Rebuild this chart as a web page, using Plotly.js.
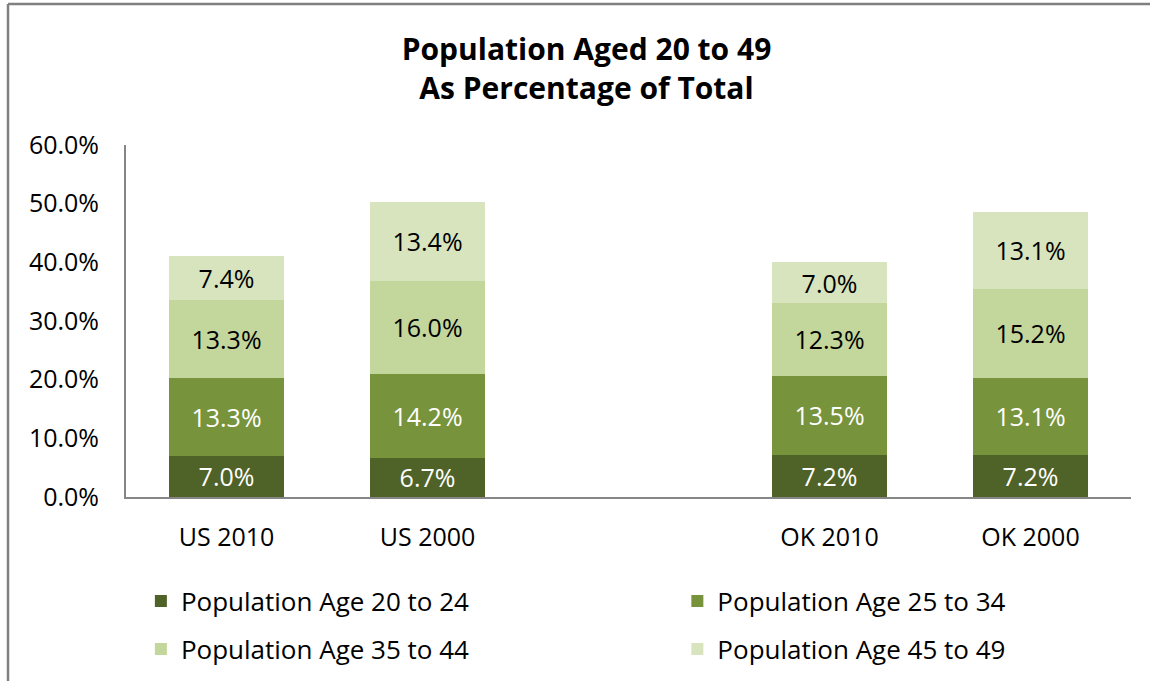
<!DOCTYPE html>
<html>
<head>
<meta charset="utf-8">
<script src="https://cdn.plot.ly/plotly-3.0.1.min.js"></script>
<style>html,body{margin:0;padding:0;background:#fff;}#chart{width:1150px;height:681px;}</style>
</head>
<body>
<div id="chart"></div>
<script>
const categories = ["US 2010", "US 2000", " ", "OK 2010", "OK 2000"];
const seriesNames = ["Population Age 20 to 24", "Population Age 25 to 34", "Population Age 35 to 44", "Population Age 45 to 49"];
const age20to24 = [7.0, 6.7, null, 7.2, 7.2];
const age25to34 = [13.3, 14.2, null, 13.5, 13.1];
const age35to44 = [13.3, 16.0, null, 12.3, 15.2];
const age45to49 = [7.4, 13.4, null, 7.0, 13.1];
const yTicks = [0, 10, 20, 30, 40, 50, 60];

const colors = ["#4F6228", "#77933C", "#C3D69B", "#D7E4BD"];
const textColors = ["#ffffff", "#ffffff", "#000000", "#000000"];
const FONT = "Open Sans, sans-serif";
const seriesValues = [age20to24, age25to34, age35to44, age45to49];
const legendIds = ["legend", "legend2", "legend3", "legend4"];
// legend placement (container fractions): two columns, two rows
const legendX = [0.1225, 0.589, 0.1225, 0.589];
const legendY = [1 - 601 / 681, 1 - 601 / 681, 1 - 649 / 681, 1 - 649 / 681];

const traces = seriesValues.map((vals, i) => ({
  type: "bar",
  name: seriesNames[i],
  x: categories,
  y: vals,
  marker: {color: colors[i], line: {width: 0}},
  text: vals.map(v => v == null ? "" : v.toFixed(1) + "%"),
  textposition: "inside",
  insidetextanchor: "middle",
  textfont: {family: FONT, size: 25, color: textColors[i]},
  hoverinfo: "skip",
  legend: legendIds[i]
}));

const layout = {
  width: 1150,
  height: 681,
  paper_bgcolor: "#ffffff",
  plot_bgcolor: "#ffffff",
  margin: {l: 126, r: 19, t: 145, b: 184, autoexpand: false},
  barmode: "stack",
  bargap: 0.428,
  showlegend: true,
  uniformtext: {mode: "show", minsize: 25},
  title: {
    text: "<b>Population Aged 20 to 49<br>As Percentage of Total</b>",
    font: {family: FONT, size: 30, color: "#000000"},
    x: 0.51, xanchor: "center", xref: "container",
    y: 1 - 60 / 681, yanchor: "middle", yref: "container"
  },
  xaxis: {
    type: "category",
    categoryorder: "array",
    categoryarray: categories,
    showline: true, linecolor: "#868686", linewidth: 2,
    showgrid: false, zeroline: false, ticks: "",
    ticklabelstandoff: 17,
    tickfont: {family: FONT, size: 25, color: "#000000"}
  },
  yaxis: {
    range: [0, 60],
    tickvals: yTicks,
    ticktext: yTicks.map(v => v.toFixed(1) + "%"),
    showline: true, linecolor: "#868686", linewidth: 2,
    showgrid: false, zeroline: false, ticks: "",
    ticklabelstandoff: 20,
    tickfont: {family: FONT, size: 25, color: "#000000"}
  },
  shapes: [
    {type: "line", xref: "paper", yref: "paper", x0: -0.1174, x1: -0.1174, y0: -0.6, y1: 1.4006, line: {color: "#808080", width: 2.5}},
    {type: "line", xref: "paper", yref: "paper", x0: -0.1174, x1: 1.1, y0: 1.4006, y1: 1.4006, line: {color: "#808080", width: 2.5}}
  ]
};

legendIds.forEach((id, i) => {
  layout[id] = {
    orientation: "h",
    xref: "container", yref: "container",
    x: legendX[i], xanchor: "left",
    y: legendY[i], yanchor: "middle",
    font: {family: FONT, size: 26, color: "#000000"},
    bgcolor: "rgba(0,0,0,0)", borderwidth: 0
  };
});

Plotly.newPlot("chart", traces, layout, {displayModeBar: false, staticPlot: true});
</script>
</body>
</html>
